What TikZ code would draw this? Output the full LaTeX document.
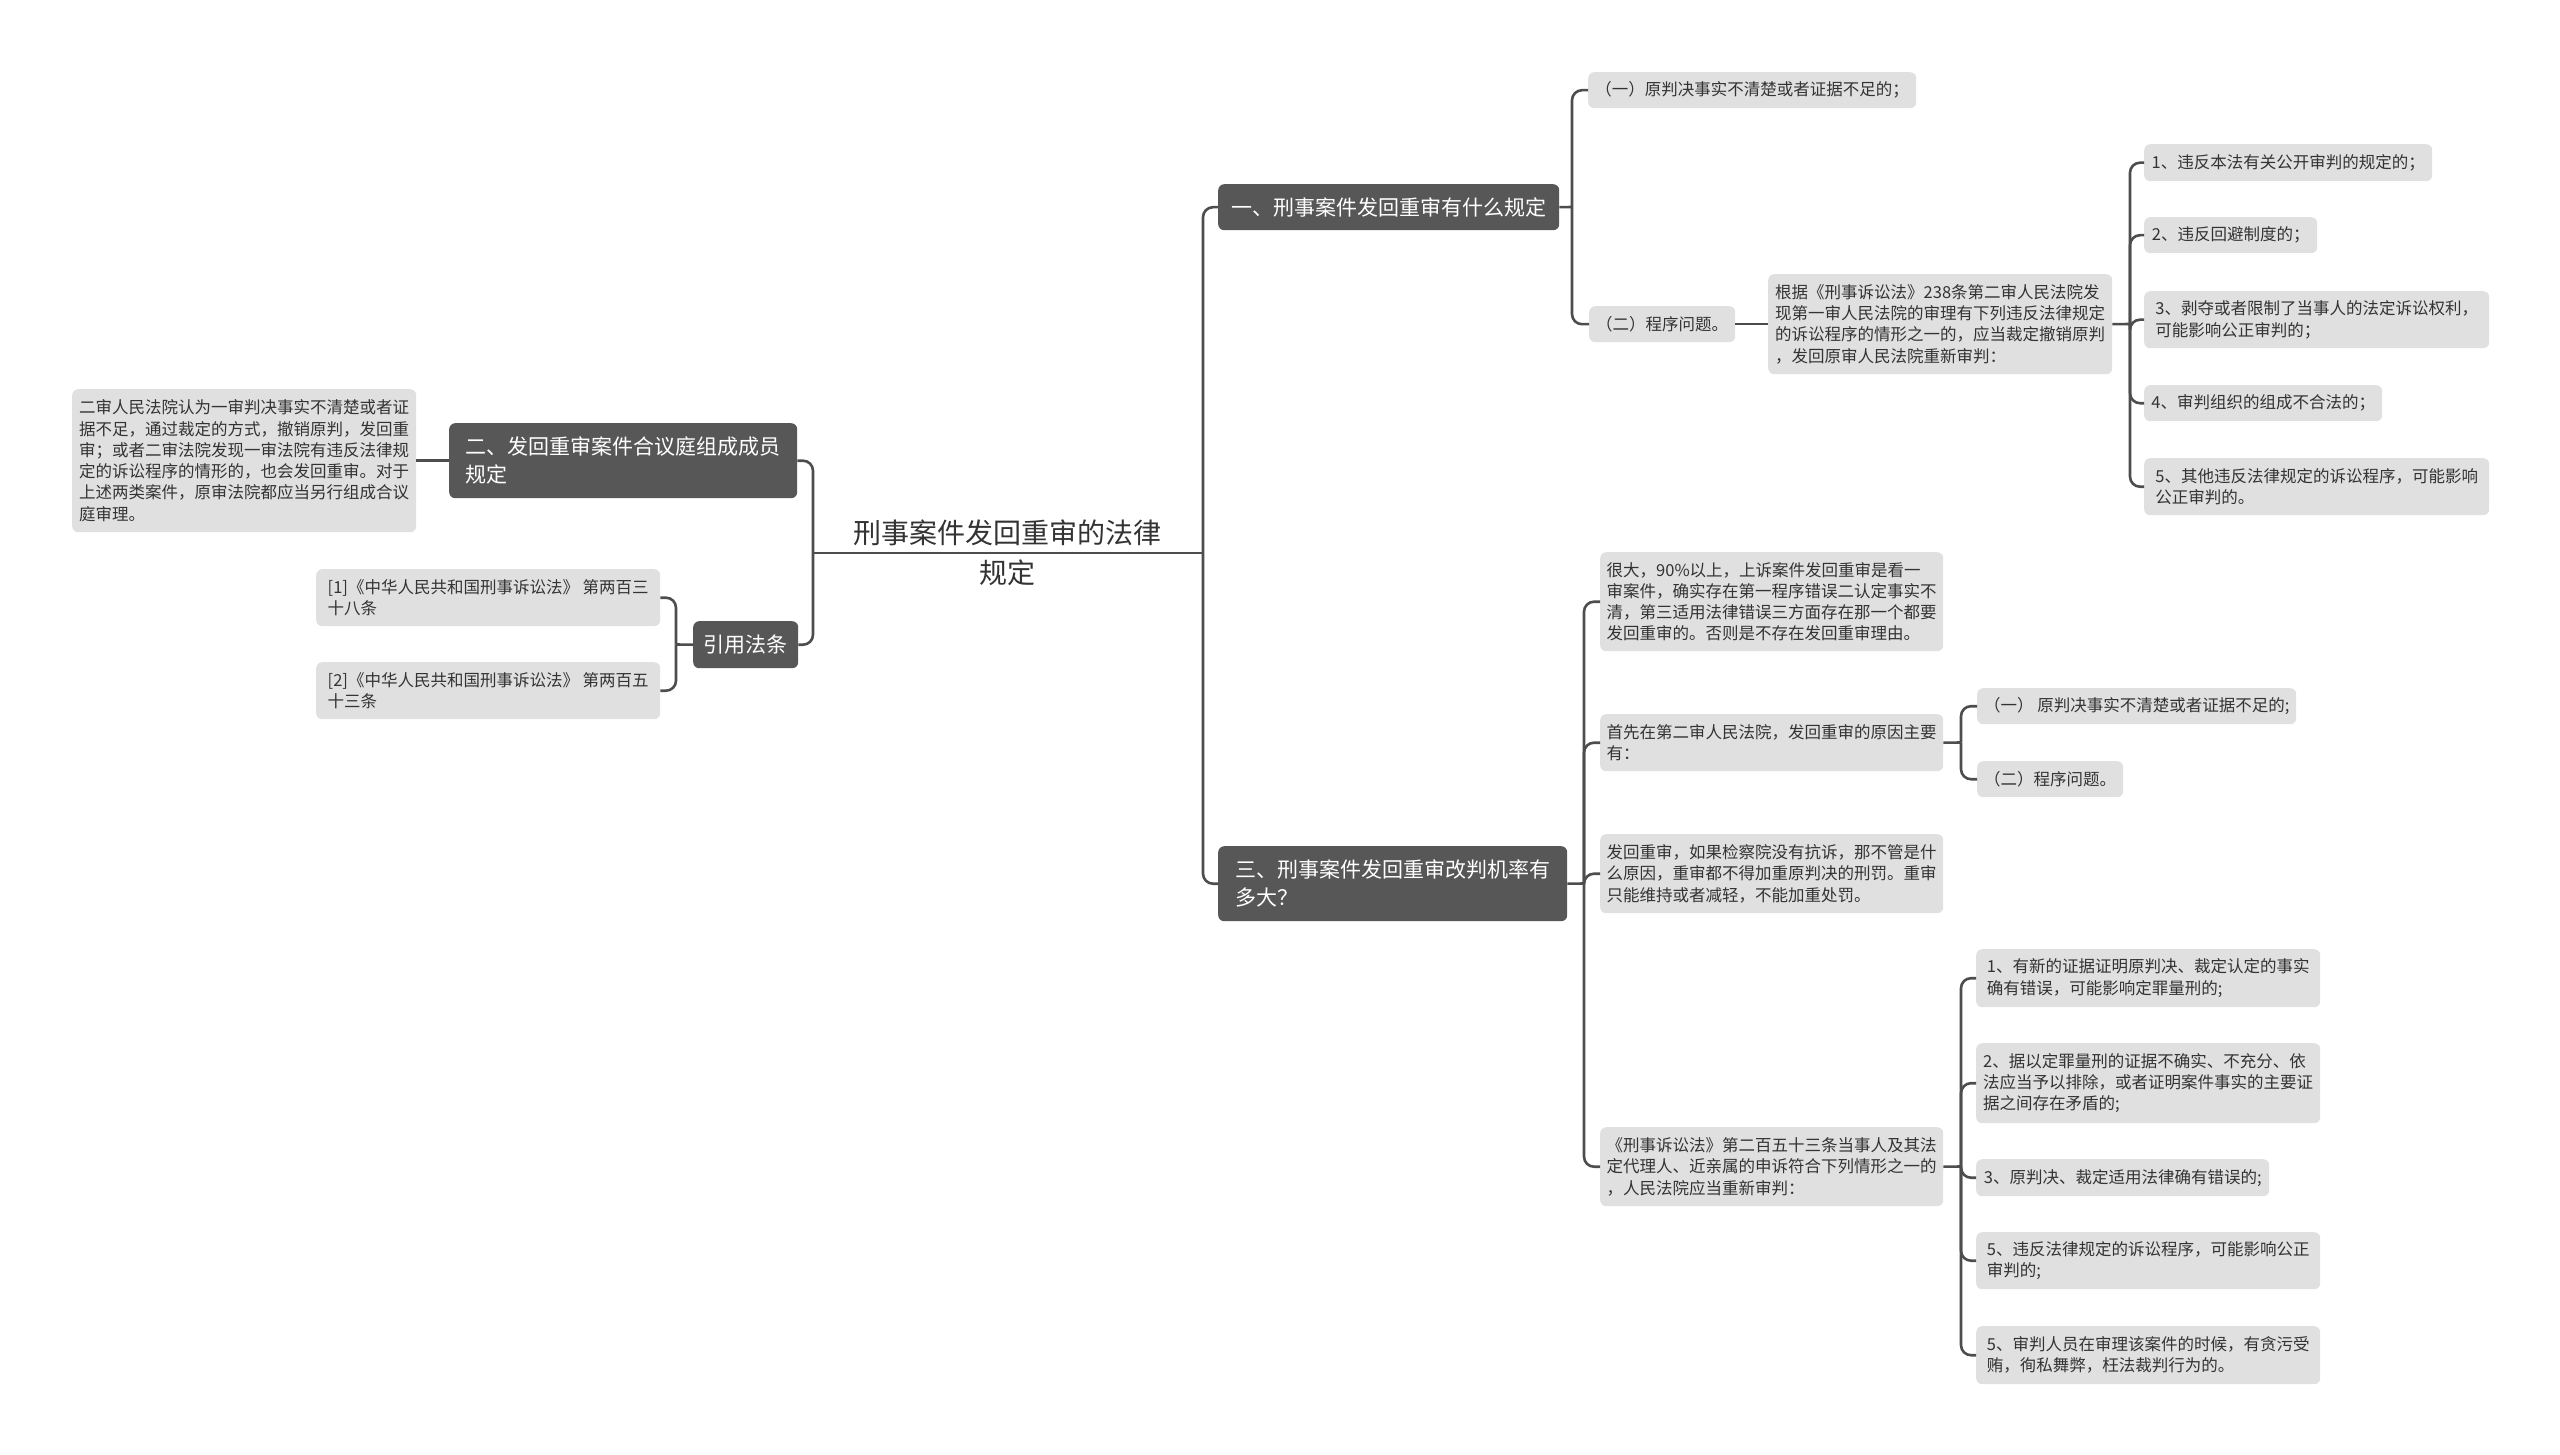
\documentclass[tikz,border=0pt]{standalone}
\usepackage{fontspec}
\setmainfont{Noto Sans CJK SC}
\definecolor{darkc}{HTML}{575757}
\definecolor{lightc}{HTML}{E0E0E0}
\definecolor{txtc}{HTML}{333333}
\definecolor{linec}{HTML}{4D4D4D}
\tikzset{
  dark/.style={fill=darkc, text=white, rounded corners=6, anchor=north west, inner sep=0pt, align=left, font=\fontsize{21}{28}\selectfont},
  light/.style={fill=lightc, text=txtc, rounded corners=6, anchor=north west, inner sep=0pt, align=left, font=\fontsize{16.5}{21.3}\selectfont},
  conn/.style={draw=linec, line width=2.6pt, rounded corners=10},
}
\begin{document}
\begin{tikzpicture}[x=1pt,y=-1pt]
\useasboundingbox (0,0) rectangle (2560,1455);
% root
\node[text=txtc, align=center, font=\fontsize{28}{40}\selectfont] (root) at (1007,553) {刑事案件发回重审的法律\\规定};
\coordinate (jl) at (813,553);
\coordinate (jr) at (1203,553);
% left side
\node[dark, minimum width=348, minimum height=75] (n2) at (449,423) {二、发回重审案件合议庭组成成员\\规定};
\node[light, minimum width=344, minimum height=143] (lft) at (72,389) {二审人民法院认为一审判决事实不清楚或者证\\据不足，通过裁定的方式，撤销原判，发回重\\审；或者二审法院发现一审法院有违反法律规\\定的诉讼程序的情形的，也会发回重审。对于\\上述两类案件，原审法院都应当另行组成合议\\庭审理。};
\node[dark, minimum width=105, minimum height=47] (ny) at (693,621) {引用法条};
\node[light, minimum width=344, minimum height=57] (r1) at (316,569) {[1]《中华人民共和国刑事诉讼法》 第两百三\\十八条};
\node[light, minimum width=344, minimum height=57] (r2) at (316,662) {[2]《中华人民共和国刑事诉讼法》 第两百五\\十三条};
\coordinate (jy) at (676,644.5);
% right side: first
\node[dark, minimum width=341, minimum height=46] (n1) at (1218,184) {一、刑事案件发回重审有什么规定};
\coordinate (j1) at (1572,207);
\node[light, minimum width=328, minimum height=36] (a1) at (1588,72) {（一）原判决事实不清楚或者证据不足的；};
\node[light, minimum width=146, minimum height=36] (a2) at (1589,306) {（二）程序问题。};
\node[light, minimum width=344, minimum height=100] (a3) at (1768,274) {根据《刑事诉讼法》238条第二审人民法院发\\现第一审人民法院的审理有下列违反法律规定\\的诉讼程序的情形之一的，应当裁定撤销原判\\，发回原审人民法院重新审判：};
\coordinate (j3) at (2130,324);
\node[light, minimum width=288, minimum height=37] (b1) at (2144,144) {1、违反本法有关公开审判的规定的；};
\node[light, minimum width=173, minimum height=36] (b2) at (2144,217) {2、违反回避制度的；};
\node[light, minimum width=345, minimum height=57] (b3) at (2144,291) {3、剥夺或者限制了当事人的法定诉讼权利，\\可能影响公正审判的；};
\node[light, minimum width=238, minimum height=36] (b4) at (2144,385) {4、审判组织的组成不合法的；};
\node[light, minimum width=345, minimum height=57] (b5) at (2144,458) {5、其他违反法律规定的诉讼程序，可能影响\\公正审判的。};
% right side: third
\node[dark, minimum width=349, minimum height=75] (n3) at (1218,846) {三、刑事案件发回重审改判机率有\\多大？};
\coordinate (jn3) at (1584,883.5);
\node[light, minimum width=343, minimum height=99] (c1) at (1600,552) {很大，90\%以上，上诉案件发回重审是看一\\审案件，确实存在第一程序错误二认定事实不\\清，第三适用法律错误三方面存在那一个都要\\发回重审的。否则是不存在发回重审理由。};
\node[light, minimum width=343, minimum height=57] (c2) at (1600,714) {首先在第二审人民法院，发回重审的原因主要\\有：};
\coordinate (jc2) at (1961,742.5);
\node[light, minimum width=319, minimum height=36] (c2a) at (1977,688) {（一） 原判决事实不清楚或者证据不足的;};
\node[light, minimum width=146, minimum height=36] (c2b) at (1977,761) {（二）程序问题。};
\node[light, minimum width=343, minimum height=79] (c3) at (1600,834) {发回重审，如果检察院没有抗诉，那不管是什\\么原因，重审都不得加重原判决的刑罚。重审\\只能维持或者减轻，不能加重处罚。};
\node[light, minimum width=343, minimum height=79] (c4) at (1600,1127) {《刑事诉讼法》第二百五十三条当事人及其法\\定代理人、近亲属的申诉符合下列情形之一的\\，人民法院应当重新审判：};
\coordinate (jc4) at (1961,1166.5);
\node[light, minimum width=344, minimum height=58] (d1) at (1976,949) {1、有新的证据证明原判决、裁定认定的事实\\确有错误，可能影响定罪量刑的;};
\node[light, minimum width=344, minimum height=80] (d2) at (1976,1043) {2、据以定罪量刑的证据不确实、不充分、依\\法应当予以排除，或者证明案件事实的主要证\\据之间存在矛盾的;};
\node[light, minimum width=293, minimum height=37] (d3) at (1976,1159) {3、原判决、裁定适用法律确有错误的;};
\node[light, minimum width=344, minimum height=57] (d4) at (1976,1232) {5、违反法律规定的诉讼程序，可能影响公正\\审判的;};
\node[light, minimum width=344, minimum height=58] (d5) at (1976,1326) {5、审判人员在审理该案件的时候，有贪污受\\贿，徇私舞弊，枉法裁判行为的。};
% connectors
\draw[conn] (jl) -- (jr);
\draw[conn] (jl) |- (n2.east);
\draw[conn] (jl) |- (ny.east);
\draw[conn] (n2.west) -- (lft.east |- n2.west);
\draw[conn] (ny.west) -- (jy);
\draw[conn] (jy) |- (r1.east);
\draw[conn] (jy) |- (r2.east);
\draw[conn] (jr) |- (n1.west);
\draw[conn] (jr) |- (n3.west);
\draw[conn] (n1.east) -- (j1);
\draw[conn] (j1) |- (a1.west);
\draw[conn] (j1) |- (a2.west);
\draw[conn] (a2.east) -- (a3.west |- a2.east);
\draw[conn] (a3.east) -- (j3);
\foreach \b in {b1,b2,b3,b4,b5} \draw[conn] (j3) |- (\b.west);
\draw[conn] (n3.east) -- (jn3);
\foreach \c in {c1,c2,c3,c4} \draw[conn] (jn3) |- (\c.west);
\draw[conn] (c2.east) -- (jc2);
\draw[conn] (jc2) |- (c2a.west);
\draw[conn] (jc2) |- (c2b.west);
\draw[conn] (c4.east) -- (jc4);
\foreach \d in {d1,d2,d3,d4,d5} \draw[conn] (jc4) |- (\d.west);
\end{tikzpicture}
\end{document}
